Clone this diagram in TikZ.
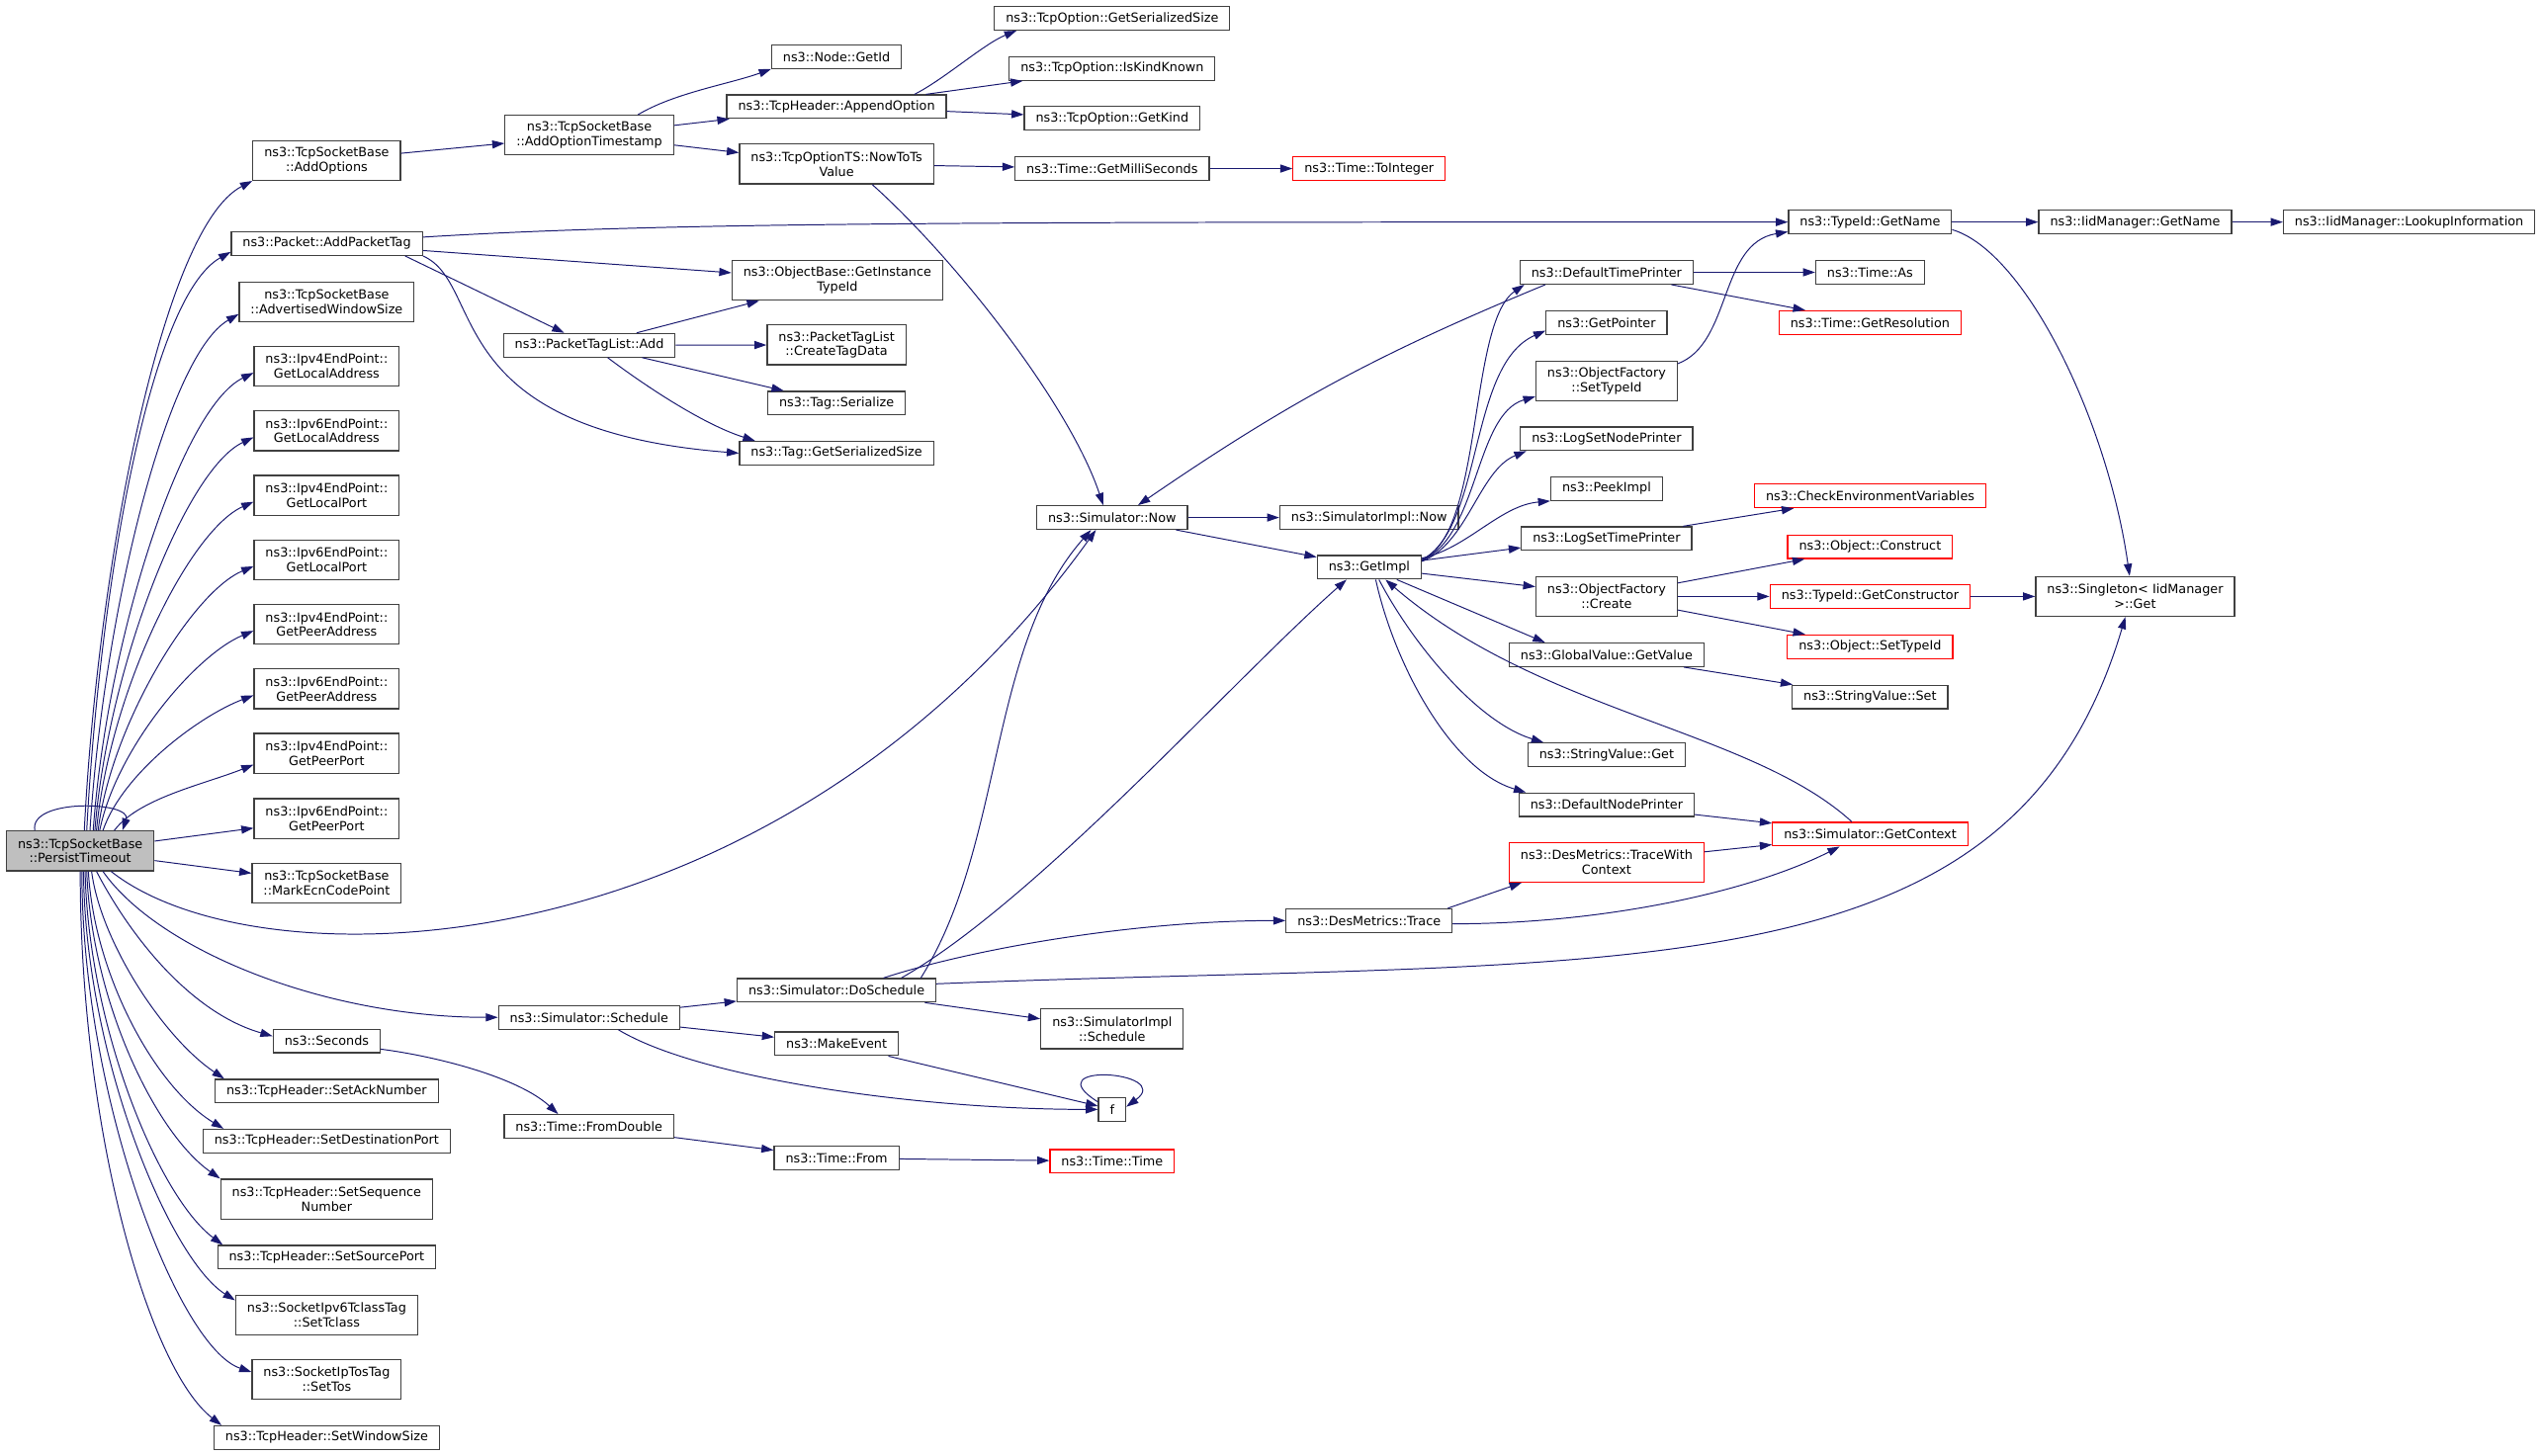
\documentclass[tikz,border=0pt]{standalone}
\usepackage{fontspec}
\setmainfont{DejaVu Sans}
\usetikzlibrary{arrows.meta}
\definecolor{edgeblue}{HTML}{191970}
\definecolor{boxline}{HTML}{404040}
\begin{document}
\begin{tikzpicture}[x=1pt,y=1pt,
	fn/.style={draw=boxline,fill=white,line width=0.75pt,inner xsep=7pt,inner ysep=2pt,
		minimum height=14.5pt,align=center,font=\fontsize{7.8}{9}\selectfont},
	dbl/.style={fn,minimum height=24.5pt},
	ext/.style={draw=red},
	call/.style={draw=edgeblue,line width=0.6pt,-{Triangle[length=7.5pt,width=5pt]}}]
		% canvas
		\fill[white] (0,0) rectangle (1568,-898);

		% caller
		\node[dbl,fill=black!25] (pt) at (49.5,-525) {ns3::TcpSocketBase\\::PersistTimeout};

		% column 1
		\node[dbl] (addopt) at (201.5,-99) {ns3::TcpSocketBase\\::AddOptions};
		\node[fn] (addtag) at (201.6,-150.3) {ns3::Packet::AddPacketTag};
		\node[dbl] (advwin) at (201.5,-186.2) {ns3::TcpSocketBase\\::AdvertisedWindowSize};
		\node[dbl] (v4laddr) at (201.5,-226) {ns3::Ipv4EndPoint::\\GetLocalAddress};
		\node[dbl] (v6laddr) at (201.5,-265.8) {ns3::Ipv6EndPoint::\\GetLocalAddress};
		\node[dbl] (v4lport) at (201.5,-305.6) {ns3::Ipv4EndPoint::\\GetLocalPort};
		\node[dbl] (v6lport) at (201.5,-345.4) {ns3::Ipv6EndPoint::\\GetLocalPort};
		\node[dbl] (v4paddr) at (201.5,-385.2) {ns3::Ipv4EndPoint::\\GetPeerAddress};
		\node[dbl] (v6paddr) at (201.5,-425) {ns3::Ipv6EndPoint::\\GetPeerAddress};
		\node[dbl] (v4pport) at (201.5,-464.8) {ns3::Ipv4EndPoint::\\GetPeerPort};
		\node[dbl] (v6pport) at (201.5,-505) {ns3::Ipv6EndPoint::\\GetPeerPort};
		\node[dbl] (ecn) at (201.5,-544.8) {ns3::TcpSocketBase\\::MarkEcnCodePoint};
		\node[fn] (secs) at (201.5,-642.3) {ns3::Seconds};
		\node[fn] (setack) at (201.5,-673.2) {ns3::TcpHeader::SetAckNumber};
		\node[fn] (setdport) at (201.5,-704) {ns3::TcpHeader::SetDestinationPort};
		\node[dbl] (setseq) at (201.5,-739.8) {ns3::TcpHeader::SetSequence\\Number};
		\node[fn] (setsport) at (201.5,-775.7) {ns3::TcpHeader::SetSourcePort};
		\node[dbl] (settclass) at (201.5,-811.4) {ns3::SocketIpv6TclassTag\\::SetTclass};
		\node[dbl] (settos) at (201.5,-851) {ns3::SocketIpTosTag\\::SetTos};
		\node[fn] (setwin) at (201.5,-887) {ns3::TcpHeader::SetWindowSize};

		% column 2
		\node[dbl] (optts) at (363.5,-83.4) {ns3::TcpSocketBase\\::AddOptionTimestamp};
		\node[fn] (ptladd) at (363.5,-213) {ns3::PacketTagList::Add};
		\node[fn] (sched) at (363.4,-627.7) {ns3::Simulator::Schedule};
		\node[fn] (fromdbl) at (363.3,-695) {ns3::Time::FromDouble};

		% column 3
		\node[fn] (getid) at (516,-35) {ns3::Node::GetId};
		\node[fn] (append) at (516,-65.8) {ns3::TcpHeader::AppendOption};
		\node[dbl] (nowtots) at (516,-101.2) {ns3::TcpOptionTS::NowToTs\\Value};
		\node[dbl] (instid) at (516.5,-173) {ns3::ObjectBase::GetInstance\\TypeId};
		\node[dbl] (tagdata) at (516,-212.8) {ns3::PacketTagList\\::CreateTagData};
		\node[fn] (tagser) at (516,-248.7) {ns3::Tag::Serialize};
		\node[fn] (tagsize) at (516,-279.6) {ns3::Tag::GetSerializedSize};
		\node[fn] (dosched) at (516,-611) {ns3::Simulator::DoSchedule};
		\node[fn] (mkevent) at (516,-644) {ns3::MakeEvent};
		\node[fn] (tfrom) at (516,-714.6) {ns3::Time::From};

		% column 4
		\node[fn] (optsize) at (686,-11.3) {ns3::TcpOption::GetSerializedSize};
		\node[fn] (kindknown) at (686,-42.3) {ns3::TcpOption::IsKindKnown};
		\node[fn] (getkind) at (686,-73) {ns3::TcpOption::GetKind};
		\node[fn] (millis) at (686,-104) {ns3::Time::GetMilliSeconds};
		\node[fn] (simnow) at (686,-319.3) {ns3::Simulator::Now};
		\node[dbl] (implsched) at (686,-634.8) {ns3::SimulatorImpl\\::Schedule};
		\node[fn] (fcall) at (686,-684.5) {f};
		\node[fn,ext] (ttime) at (686,-716.5) {ns3::Time::Time};

		% column 5
		\node[fn,ext] (toint) at (844.5,-104) {ns3::Time::ToInteger};
		\node[fn] (implnow) at (844.5,-319.3) {ns3::SimulatorImpl::Now};
		\node[fn] (getimpl) at (844.6,-350) {ns3::GetImpl};
		\node[fn] (trace) at (844.5,-568) {ns3::DesMetrics::Trace};

		% column 6
		\node[fn] (dtp) at (991,-168) {ns3::DefaultTimePrinter};
		\node[fn] (getptr) at (991,-199) {ns3::GetPointer};
		\node[dbl] (ofsettid) at (991,-235) {ns3::ObjectFactory\\::SetTypeId};
		\node[fn] (lognode) at (991,-270.7) {ns3::LogSetNodePrinter};
		\node[fn] (peek) at (991,-301.5) {ns3::PeekImpl};
		\node[fn] (logtime) at (991,-332.3) {ns3::LogSetTimePrinter};
		\node[dbl] (ofcreate) at (991,-368) {ns3::ObjectFactory\\::Create};
		\node[fn] (gvget) at (991,-404) {ns3::GlobalValue::GetValue};
		\node[fn] (svget) at (991,-465.7) {ns3::StringValue::Get};
		\node[fn] (dnp) at (991,-496.5) {ns3::DefaultNodePrinter};
		\node[dbl,ext] (tracectx) at (991,-532) {ns3::DesMetrics::TraceWith\\Context};

		% column 7
		\node[fn] (tidname) at (1153.5,-137) {ns3::TypeId::GetName};
		\node[fn] (tas) at (1153.5,-168) {ns3::Time::As};
		\node[fn,ext] (tres) at (1153.5,-199) {ns3::Time::GetResolution};
		\node[fn,ext] (checkenv) at (1153.6,-306) {ns3::CheckEnvironmentVariables};
		\node[fn,ext] (construct) at (1153.5,-337.3) {ns3::Object::Construct};
		\node[fn,ext] (getctor) at (1153.5,-368) {ns3::TypeId::GetConstructor};
		\node[fn,ext] (objsettid) at (1153.5,-399) {ns3::Object::SetTypeId};
		\node[fn] (svset) at (1153.5,-430) {ns3::StringValue::Set};
		\node[fn,ext] (getctx) at (1153.6,-514.7) {ns3::Simulator::GetContext};

		% columns 8 and 9
		\node[fn] (iidname) at (1317,-137) {ns3::IidManager::GetName};
		\node[dbl] (singleton) at (1317,-368) {ns3::Singleton< IidManager\\>::Get};
		\node[fn] (lookup) at (1486,-137) {ns3::IidManager::LookupInformation};

		% calls going up from the caller
		\draw[call] ([xshift=-28]pt.north) .. controls +(-4,20) and +(6,18) .. ([xshift=26]pt.north);
		\draw[call] ([xshift=2.5]pt.north) .. controls +(8,160) and +(-56,-29) .. (addopt.south west);
		\draw[call] ([xshift=4]pt.north) .. controls +(8,150) and +(-50,-28) .. ([yshift=2.5]addtag.south west);
		\draw[call] ([xshift=6]pt.north) .. controls +(8,130) and +(-45,-26) .. ([yshift=5]advwin.south west);
		\draw[call] ([xshift=8]pt.north) .. controls +(8,115) and +(-45,-22) .. ([yshift=-4]v4laddr.west);
		\draw[call] ([xshift=9]pt.north) .. controls +(8,100) and +(-42,-20) .. ([yshift=-4]v6laddr.west);
		\draw[call] ([xshift=10]pt.north) .. controls +(8,85) and +(-40,-18) .. ([yshift=-4]v4lport.west);
		\draw[call] ([xshift=11]pt.north) .. controls +(8,65) and +(-38,-16) .. ([yshift=-4]v6lport.west);
		\draw[call] ([xshift=12]pt.north) .. controls +(10,50) and +(-36,-15) .. ([yshift=-4]v4paddr.west);
		\draw[call] ([xshift=14]pt.north) .. controls +(12,35) and +(-34,-13) .. ([yshift=-4]v6paddr.west);
		\draw[call] ([xshift=21]pt.north) .. controls +(15,20) and +(-30,-12) .. ([yshift=-7]v4pport.west);
		\draw[call] (pt) -- (v6pport);
		\draw[call] (pt) -- (ecn);

		% calls going down from the caller
		\draw[call] ([xshift=19]pt.south) .. controls +(92,-73) and +(-196,-273) .. ([xshift=-10]simnow.south);
		\draw[call] ([xshift=14]pt.south) .. controls +(33.5,-48) and +(-108,0) .. (sched.west);
		\draw[call] ([xshift=10]pt.south) .. controls +(22.5,-43) and +(-49,14) .. ([yshift=3]secs.west);
		\draw[call] ([xshift=7]pt.south) .. controls +(5.5,-43) and +(-38,25.6) .. ([xshift=6]setack.north west);
		\draw[call] ([xshift=5]pt.south) .. controls +(3.5,-63) and +(-42.8,26) .. ([xshift=13]setdport.north west);
		\draw[call] ([xshift=4]pt.south) .. controls +(3,-80) and +(-40,28) .. (setseq.north west);
		\draw[call] ([xshift=3]pt.south) .. controls +(2,-95) and +(-40,30) .. ([xshift=3.5]setsport.north west);
		\draw[call] ([xshift=2]pt.south) .. controls +(1,-115) and +(-40,25) .. ([yshift=-3.5]settclass.north west);
		\draw[call] ([xshift=1]pt.south) .. controls +(0,-140) and +(-45,15) .. ([yshift=4.5]settos.west);
		\draw[call] (pt.south) .. controls +(0,-160) and +(-45,35) .. ([xshift=5]setwin.north west);

		% options and tags
		\draw[call] (addopt) -- (optts);
		\draw[call] ([xshift=30]optts.north) .. controls +(22.5,13.5) and +(-26,-9.3) .. (getid.south west);
		\draw[call] (optts) -- (append);
		\draw[call] (optts) -- (nowtots);
		\draw[call] ([xshift=-20]append.north east) .. controls +(18,9) and +(-20,-8) .. ([xshift=14]optsize.south west);
		\draw[call] (append) -- (kindknown);
		\draw[call] (append) -- (getkind);
		\draw[call] (nowtots) -- (millis);
		\draw[call] ([xshift=22]nowtots.south) .. controls +(52,-46.6) and +(-20.5,61.6) .. ([xshift=-5.5]simnow.north);
		\draw[call] (millis) -- (toint);
		\draw[call] ([yshift=4]addtag.east) .. controls +(150,9.3) and +(-500,0) .. (tidname.west);
		\draw[call] (addtag) -- (instid);
		\draw[call] ([xshift=-11]addtag.south east) -- ([xshift=-15.5]ptladd.north);
		\draw[call] (addtag.south east) .. controls +(39,-17) and +(-186,14.6) .. (tagsize.west);
		\draw[call] (ptladd) -- (instid);
		\draw[call] (ptladd) -- (tagdata);
		\draw[call] (ptladd) -- (tagser);
		\draw[call] ([xshift=11.3]ptladd.south) .. controls +(25.2,-19) and +(-31,9.8) .. ([xshift=10]tagsize.north west);

		% simulator
		\draw[call] (simnow) -- (implnow);
		\draw[call] (simnow) -- (getimpl);
		\draw[call] ([yshift=-3]getimpl.north east) .. controls +(38.2,15.5) and +(-34.8,-24) .. ([xshift=3]dtp.south west);
		\draw[call] ([yshift=-3]getimpl.north east) .. controls +(38.2,20) and +(-48,-21) .. ([yshift=-5]getptr.west);
		\draw[call] ([yshift=-3.5]getimpl.north east) .. controls +(35.2,15.5) and +(-37.4,-11) .. ([yshift=3]ofsettid.south west);
		\draw[call] ([yshift=-4]getimpl.north east) .. controls +(28.2,11) and +(-29,-11.6) .. ([xshift=4]lognode.south west);
		\draw[call] ([yshift=-2]getimpl.north east) .. controls +(28,6) and +(-31,-2.7) .. (peek.south west);
		\draw[call] (getimpl) -- ([yshift=2]logtime.south west);
		\draw[call] (getimpl) -- ([yshift=6]ofcreate.west);
		\draw[call] ([xshift=17]getimpl.south) -- ([xshift=-38]gvget.north);
		\draw[call] ([xshift=6]getimpl.south) .. controls +(19.4,-37.3) and +(-42,13) .. ([xshift=10]svget.north west);
		\draw[call] ([xshift=4]getimpl.south) .. controls +(11.4,-52.3) and +(-46,13.6) .. ([xshift=4.6]dnp.north west);
		\draw[call] ([xshift=-11.3]getctx.north) .. controls +(-62.3,57) and +(95.4,-82.3) .. ([xshift=10]getimpl.south);
		\draw[call] (dtp) -- (tas);
		\draw[call] (dtp) -- (tres);
		\draw[call] ([xshift=16]dtp.south west) to[bend right=6] ([xshift=16]simnow.north);
		\draw[call] ([yshift=-2]ofsettid.north east) .. controls +(33.4,12.7) and +(-42.6,-7) .. ([yshift=-6]tidname.west);
		\draw[call] (logtime) -- (checkenv);
		\draw[call] (ofcreate) -- (construct);
		\draw[call] (ofcreate) -- (getctor);
		\draw[call] (ofcreate) -- (objsettid);
		\draw[call] (gvget) -- (svset);
		\draw[call] (dnp) -- (getctx);
		\draw[call] (tracectx) -- (getctx);
		\draw[call] (tidname) -- (iidname);
		\draw[call] (iidname) -- (lookup);
		\draw[call] ([yshift=-4.7]tidname.east) .. controls +(45,-13.3) and +(-13.6,96) .. ([xshift=-3.4]singleton.north);
		\draw[call] (getctor) -- (singleton);

		% scheduling
		\draw[call] (sched) -- (dosched);
		\draw[call] (sched) -- (mkevent);
		\draw[call] ([xshift=18]sched.south) .. controls +(48.5,-29.4) and +(-114,0) .. (fcall.west);
		\draw[call] (mkevent) -- (fcall);
		\draw[call] ([yshift=-3]fcall.north west) .. controls +(-40,25) and +(30,22) .. ([yshift=-6]fcall.north east);
		\draw[call] ([xshift=52]dosched.north) .. controls +(52,83) and +(-64,-72.5) .. ([xshift=-13]simnow.south);
		\draw[call] ([xshift=40]dosched.north) .. controls +(84,48) and +(-70.6,-62.3) .. ([xshift=-14]getimpl.south);
		\draw[call] ([xshift=29]dosched.north) .. controls +(55,18) and +(-93,0) .. (trace.west);
		\draw[call] (dosched) -- (implsched);
		\draw[call] ([yshift=4]dosched.east) .. controls +(422.5,17) and +(-71,-239.6) .. ([xshift=-6]singleton.south);
		\draw[call] ([xshift=-3]trace.north east) -- ([xshift=8]tracectx.south west);
		\draw[call] ([yshift=-2]trace.east) .. controls +(94,0) and +(-54.8,-27.7) .. ([xshift=-18.8]getctx.south);

		% time
		\draw[call] ([yshift=-5]secs.east) .. controls +(36,-4.7) and +(-24.3,22.4) .. ([xshift=-19]fromdbl.north);
		\draw[call] (fromdbl) -- (tfrom);
		\draw[call] (tfrom) -- (ttime);
	\end{tikzpicture}
\end{document}
